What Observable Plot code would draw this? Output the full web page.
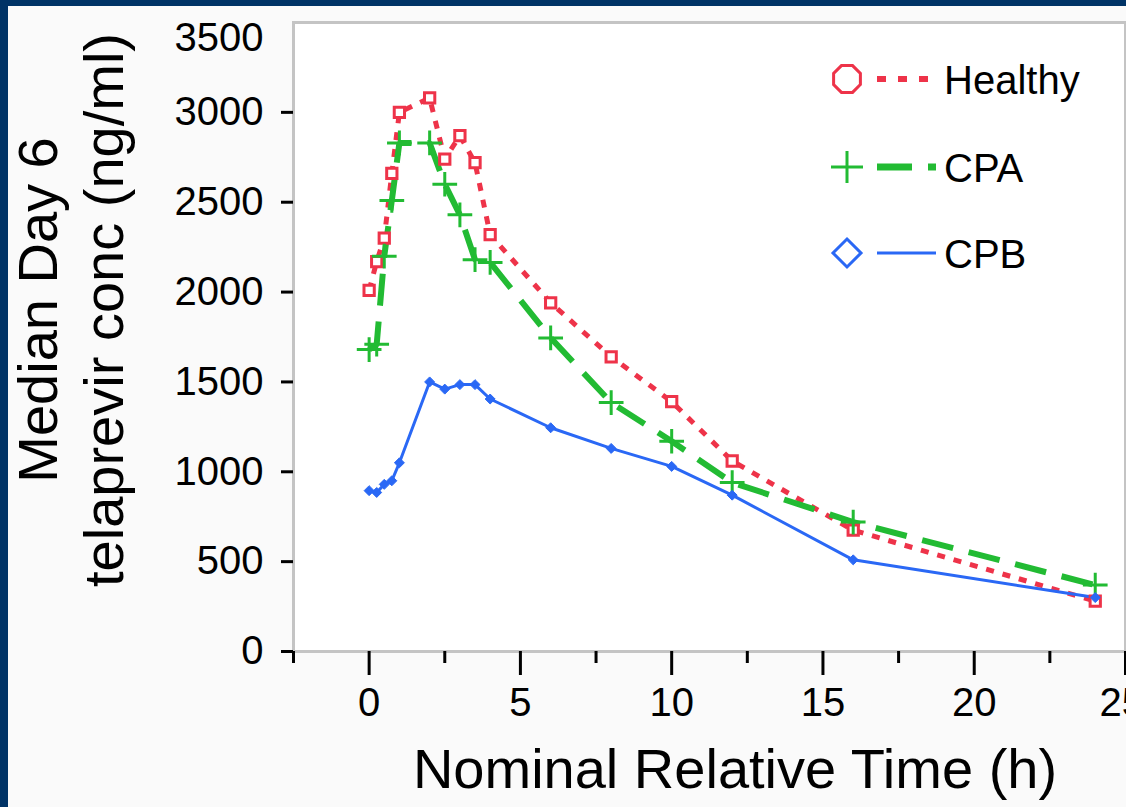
<!DOCTYPE html>
<html>
<head>
<meta charset="utf-8">
<script src="https://cdn.jsdelivr.net/npm/d3@7"></script>
<script src="https://cdn.jsdelivr.net/npm/@observablehq/plot@0.6"></script>
<style>
  html, body { margin: 0; padding: 0; }
  body { width: 1126px; height: 807px; background: #003366; position: relative; overflow: hidden;
         font-family: "Liberation Sans", Arial, Helvetica, sans-serif; }
  #panel { position: absolute; left: 8px; top: 6px; width: 1118px; height: 801px; background: #fafafa; }
  #overlay { position: absolute; left: 0; top: 0; pointer-events: none; }
</style>
</head>
<body>
<div id="panel"></div>
<svg id="overlay" width="1126" height="807"></svg>
<script>
// ---- data ----
const times   = [0, 0.25, 0.5, 0.75, 1, 2, 2.5, 3, 3.5, 4, 6, 8, 10, 12, 16, 24];
const healthy = [2010, 2170, 2300, 2660, 3000, 3080, 2740, 2870, 2720, 2320, 1940, 1640, 1390, 1060, 675, 280];
const cpa     = [1680, 1710, 2200, 2510, 2830, 2830, 2600, 2430, 2180, 2165, 1745, 1385, 1170, 940, 720, 370];
const cpb     = [895, 885, 930, 950, 1050, 1500, 1460, 1485, 1485, 1405, 1245, 1130, 1030, 870, 510, 300];
const seriesNames = ["Healthy", "CPA", "CPB"];
const xMajorTicks = [0, 5, 10, 15, 20, 25];
const xLabelTicks = [0, 5, 10, 15, 20];
const xEdgeLabel = [25];
const xMinorTicks = [-2.5, 2.5, 7.5, 12.5, 17.5, 22.5];
const yTicks = [0, 500, 1000, 1500, 2000, 2500, 3000];
const yTopLabel = [3500];
const xTitle = "Nominal Relative Time (h)";
const yTitleLines = ["Median Day 6", "telaprevir conc (ng/ml)"];

const colors = {Healthy: "#ee3349", CPA: "#22bb33", CPB: "#2a68f5"};

const rows = (name, vals) => times.map((t, i) => ({series: name, t, v: vals[i]}));
const dH = rows("Healthy", healthy);
const dA = rows("CPA", cpa);
const dB = rows("CPB", cpb);
const fmt = d3.format("d");

const chart = Plot.plot({
  width: 1118,
  height: 801,
  marginLeft: 285,
  marginTop: 16,
  marginRight: 1,
  marginBottom: 156,
  style: {background: "transparent", fontSize: "40px", fontFamily: "'Liberation Sans', Arial, sans-serif", color: "#000", overflow: "visible"},
  x: {domain: [-2.5, 25]},
  y: {domain: [0, 3500]},
  marks: [
    Plot.frame({fill: "white"}),
    Plot.frame({stroke: "#c4c4c4", strokeWidth: 3}),
    Plot.line(dH, {x: "t", y: "v", stroke: colors.Healthy, strokeWidth: 5, strokeDasharray: "8,9", strokeLinecap: "butt", strokeLinejoin: "miter"}),
    Plot.line(dA, {x: "t", y: "v", stroke: colors.CPA, strokeWidth: 6, strokeDasharray: "32,16", strokeLinecap: "butt", strokeLinejoin: "miter"}),
    Plot.line(dB, {x: "t", y: "v", stroke: colors.CPB, strokeWidth: 3}),
    Plot.dot(dH, {x: "t", y: "v", symbol: "square", r: 5.8, stroke: colors.Healthy, fill: "white", strokeWidth: 3}),
    Plot.dot(dA, {x: "t", y: "v", symbol: "plus", r: 8, stroke: colors.CPA, strokeWidth: 3}),
    Plot.dot(dB, {x: "t", y: "v", symbol: "diamond2", r: 4.5, fill: colors.CPB, stroke: colors.CPB, strokeWidth: 1}),
    Plot.axisX({ticks: xMajorTicks, tickSize: 24, strokeWidth: 3, stroke: "#000", text: null, label: null}),
    Plot.axisX({ticks: xLabelTicks, tickFormat: fmt, tickSize: 0, tickPadding: 36, fill: "#000", label: null}),
    Plot.axisX({ticks: xEdgeLabel, tickFormat: fmt, tickSize: 0, tickPadding: 36, fill: "#000", label: null, textAnchor: "start", dx: -26}),
    Plot.axisX({ticks: xMinorTicks, tickSize: 12, strokeWidth: 3, stroke: "#000", text: null, label: null}),
    Plot.axisY({ticks: yTicks, tickFormat: fmt, tickSize: 12, tickPadding: 18, strokeWidth: 3, stroke: "#000", fill: "#000", label: null}),
    Plot.axisY({ticks: yTopLabel, tickFormat: fmt, tickSize: 0, tickPadding: 30, dy: 16, fill: "#000", label: null})
  ]
});
document.getElementById("panel").appendChild(chart);

// ---- titles and legend (page coordinates) ----
const ov = d3.select("#overlay");
const FF = "'Liberation Sans', Arial, sans-serif";
ov.append("text").attr("x", 735).attr("y", 788).attr("text-anchor", "middle")
  .attr("font-family", FF).attr("font-size", 56).attr("fill", "#000").text(xTitle);
[57, 123].forEach((bx, i) => {
  ov.append("text").attr("x", bx).attr("y", 310).attr("text-anchor", "middle")
    .attr("transform", `rotate(-90,${bx},310)`)
    .attr("font-family", FF).attr("font-size", 56).attr("fill", "#000").text(yTitleLines[i]);
});

const legY = [79, 167, 253];
const mx = 847;
// Healthy: octagon, dotted
{
  const y = legY[0], r = 14.5;
  const pts = d3.range(8).map(k => {
    const a = Math.PI / 8 + k * Math.PI / 4;
    return [mx + r * Math.cos(a), y + r * Math.sin(a)];
  });
  ov.append("polygon").attr("points", pts.map(p => p.join(",")).join(" "))
    .attr("fill", "white").attr("stroke", colors.Healthy).attr("stroke-width", 3);
  ov.append("line").attr("x1", 877).attr("x2", 931).attr("y1", y).attr("y2", y)
    .attr("stroke", colors.Healthy).attr("stroke-width", 6).attr("stroke-dasharray", "9,12");
}
// CPA: plus, dash + dot
{
  const y = legY[1];
  ov.append("path").attr("d", `M${mx - 16},${y}H${mx + 16}M${mx},${y - 16}V${y + 16}`)
    .attr("stroke", colors.CPA).attr("stroke-width", 3).attr("fill", "none");
  ov.append("line").attr("x1", 877).attr("x2", 936).attr("y1", y).attr("y2", y)
    .attr("stroke", colors.CPA).attr("stroke-width", 7).attr("stroke-dasharray", "35,16");
}
// CPB: diamond, solid
{
  const y = legY[2], r = 14;
  ov.append("path").attr("d", `M${mx},${y - r}L${mx + r},${y}L${mx},${y + r}L${mx - r},${y}Z`)
    .attr("fill", "white").attr("stroke", colors.CPB).attr("stroke-width", 3);
  ov.append("line").attr("x1", 877).attr("x2", 936).attr("y1", y).attr("y2", y)
    .attr("stroke", colors.CPB).attr("stroke-width", 3);
}
seriesNames.forEach((n, i) => {
  ov.append("text").attr("x", 944).attr("y", legY[i] + 15)
    .attr("font-family", FF).attr("font-size", 40).attr("fill", "#000").text(n);
});
</script>
</body>
</html>
